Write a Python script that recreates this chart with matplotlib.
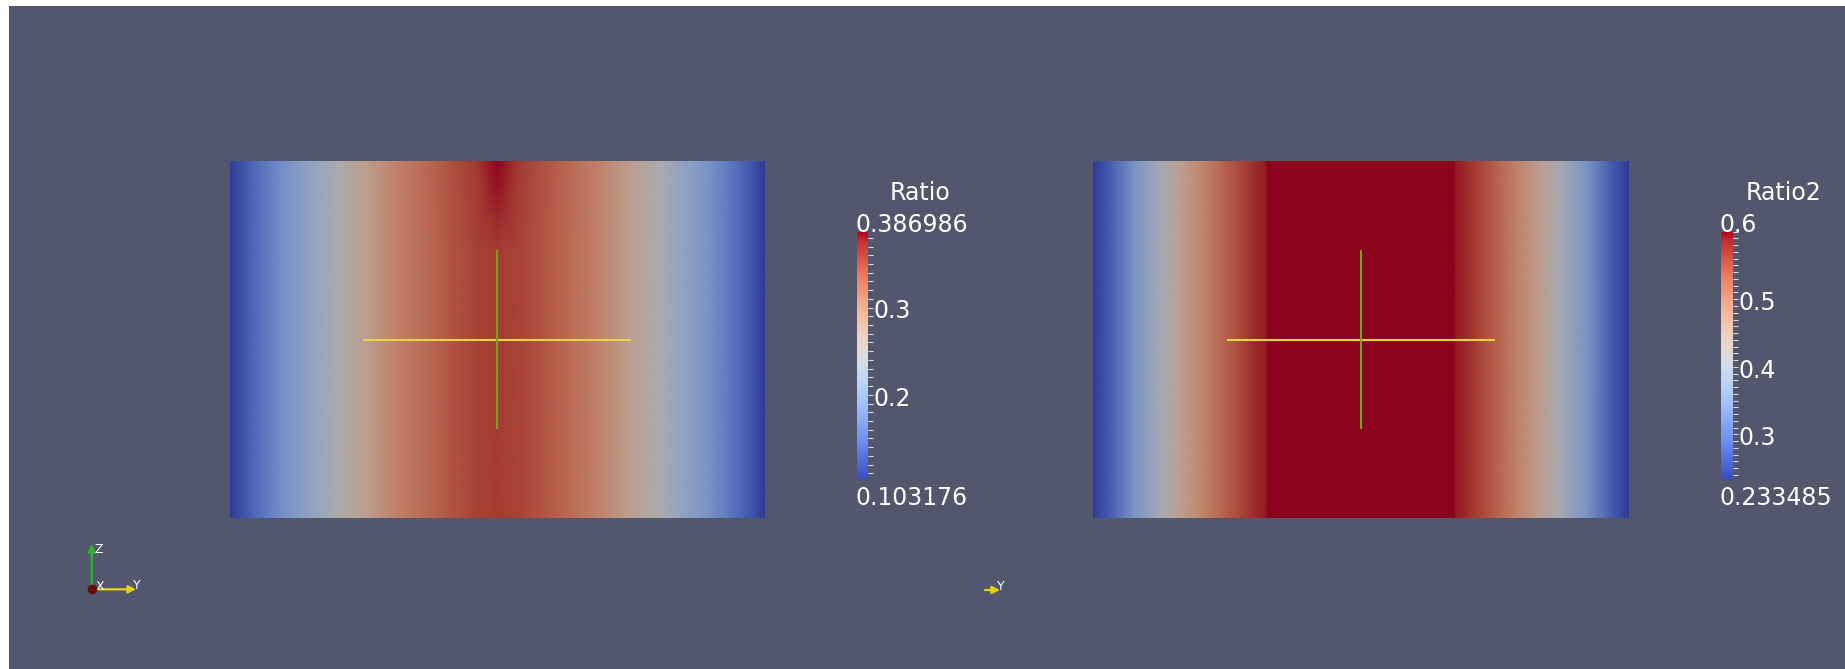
import numpy as np
import matplotlib
matplotlib.use("Agg")
import matplotlib.pyplot as plt
from matplotlib.colors import ListedColormap, Normalize
from matplotlib.cm import ScalarMappable
from matplotlib.ticker import FixedLocator, MultipleLocator
import matplotlib.patches as mpatches

# ---------------- data ----------------
# node positions across the slab (domain units) and field values at those nodes
ratio_x = [-1.5, -1.44, -1.38, -1.29, -1.2, -1.11, -1.02, -0.9, -0.735, -0.57, -0.42, -0.27, -0.12, 0.0,
           0.12, 0.27, 0.42, 0.57, 0.735, 0.9, 1.02, 1.11, 1.2, 1.29, 1.38, 1.44, 1.5]
ratio_mid = [0.103, 0.120, 0.137, 0.160, 0.183, 0.200, 0.217, 0.245, 0.273, 0.305, 0.324, 0.343, 0.356, 0.362,
             0.356, 0.343, 0.324, 0.305, 0.273, 0.245, 0.217, 0.200, 0.183, 0.160, 0.137, 0.120, 0.103]
ratio_top = [0.103, 0.120, 0.137, 0.160, 0.183, 0.200, 0.217, 0.245, 0.273, 0.305, 0.325, 0.345, 0.362, 0.386986,
             0.362, 0.345, 0.325, 0.305, 0.273, 0.245, 0.217, 0.200, 0.183, 0.160, 0.137, 0.120, 0.103]
ratio_y = [-1.0, 0.5, 1.0]
ratio_range = (0.103176, 0.386986)
ratio_ticks = [0.2, 0.3]
ratio_tick_labels = ["0.2", "0.3"]
ratio_range_labels = ["0.386986", "0.103176"]

ratio2_x = [-1.5, -1.404, -1.269, -1.116, -1.002, -0.888, -0.774, -0.678, -0.582, -0.534, -0.522, 0.0,
            0.522, 0.534, 0.582, 0.678, 0.774, 0.888, 1.002, 1.116, 1.269, 1.404, 1.5]
ratio2_vals = [0.2335, 0.270, 0.343, 0.406, 0.453, 0.490, 0.527, 0.556, 0.582, 0.589, 0.65, 0.65,
               0.65, 0.589, 0.582, 0.556, 0.527, 0.490, 0.453, 0.406, 0.343, 0.270, 0.2335]
ratio2_y = [-1.0, 1.0]
ratio2_range = (0.233485, 0.6)
ratio2_ticks = [0.3, 0.4, 0.5]
ratio2_tick_labels = ["0.3", "0.4", "0.5"]
ratio2_range_labels = ["0.6", "0.233485"]

titles = ["Ratio", "Ratio2"]

# ---------------- figure ----------------
W, H = 1845, 669
DPI = 100
fig = plt.figure(figsize=(W / DPI, H / DPI), dpi=DPI, facecolor="white")
plt.rcParams["font.family"] = ["DejaVu Sans"]

BG = "#52576e"
TXT = "#ffffff"
FS = 17


def frac_rect(x0, y0, x1, y1):
    """pixel box (top-down) -> figure fraction rect"""
    return [x0 / W, 1 - y1 / H, (x1 - x0) / W, (y1 - y0) / H]


def ftext(x, y, s, **kw):
    fig.text(x / W, 1 - y / H, s, color=kw.pop("color", TXT), **kw)


# background / overlay axes in pixel coordinates
bg = fig.add_axes([0, 0, 1, 1], zorder=0)
bg.set_xlim(0, W)
bg.set_ylim(H, 0)
bg.axis("off")
bg.add_patch(mpatches.Rectangle((9, 6), W - 9, H - 6, color=BG, lw=0))

base = plt.get_cmap("coolwarm")
lit = ListedColormap(base(np.linspace(0, 1, 256))[:, :3] * 0.777)

YELLOW = "#e6d246"
GREEN = "#78a01e"


def panel(rect, xs, ys, Z, rng):
    ax = fig.add_axes(rect, zorder=1)
    X, Y = np.meshgrid(xs, ys)
    ax.pcolormesh(X, Y, np.asarray(Z), shading="gouraud", cmap=lit,
                  norm=Normalize(*rng), antialiased=False)
    ax.plot([-0.75, 0.75], [0, 0], color=YELLOW, lw=1.5, solid_capstyle="butt", zorder=3)
    ax.plot([0, 0], [-0.5, 0.5], color=GREEN, lw=1.5, solid_capstyle="butt", zorder=4)
    ax.set_xlim(-1.5, 1.5)
    ax.set_ylim(-1, 1)
    ax.axis("off")
    return ax


panel(frac_rect(229.5, 161, 765, 518), ratio_x, ratio_y,
      [ratio_mid, ratio_mid, ratio_top], ratio_range)
panel(frac_rect(1093, 161, 1628.5, 518), ratio2_x, ratio2_y,
      [ratio2_vals, ratio2_vals], ratio2_range)


def colorbar(x0, x1, y0, y1, rng, ticks, tlabels, rlabels, title, title_x):
    cax = fig.add_axes(frac_rect(x0, y0, x1, y1), zorder=2)
    sm = ScalarMappable(norm=Normalize(*rng), cmap=base)
    cb = fig.colorbar(sm, cax=cax)
    cb.outline.set_visible(False)
    cax.yaxis.set_major_locator(FixedLocator(ticks))
    cax.yaxis.set_minor_locator(MultipleLocator(0.01))
    cax.tick_params(which="both", direction="out", length=3.3, width=0.8,
                    color="#dcdcdc", left=False, right=True,
                    labelleft=False, labelright=False)
    bar_h = y1 - y0
    for v, s in zip(ticks, tlabels):
        yp = y1 - (v - rng[0]) / (rng[1] - rng[0]) * bar_h
        ftext(x1 + 5.5, yp + 10.8, s, fontsize=FS, ha="left", va="baseline")
    ftext(x0 - 1, 231.7, rlabels[0], fontsize=FS, ha="left", va="baseline")
    ftext(x0 - 1, 505, rlabels[1], fontsize=FS, ha="left", va="baseline")
    ftext(title_x, 200.5, title, fontsize=FS, ha="center", va="baseline")


colorbar(856.7, 868.3, 231.7, 479.3, ratio_range, ratio_ticks, ratio_tick_labels,
         ratio_range_labels, titles[0], 920)
colorbar(1720.7, 1732.7, 231.7, 479.3, ratio2_range, ratio2_ticks, ratio2_tick_labels,
         ratio2_range_labels, titles[1], 1784)

# orientation axes glyph (left view)
ox, oy = 91.7, 589.3
bg.annotate("", xy=(ox, 544), xytext=(ox, oy),
            arrowprops=dict(arrowstyle="-|>", color="#2fb52f", lw=1.6, mutation_scale=11,
                            shrinkA=0, shrinkB=0))
bg.annotate("", xy=(136, oy), xytext=(ox, oy),
            arrowprops=dict(arrowstyle="-|>", color="#e5d21a", lw=1.6, mutation_scale=11,
                            shrinkA=0, shrinkB=0))
bg.plot([ox], [oy], "o", ms=6, color="#6a0c0c", mec="#6a0c0c", zorder=5)
bg.text(98.5, 549.5, "Z", color=TXT, fontsize=9, ha="center", va="center")
bg.text(99.5, 586.0, "X", color=TXT, fontsize=9, ha="center", va="center")
bg.text(136.5, 585.5, "Y", color=TXT, fontsize=9, ha="center", va="center")

# clipped orientation glyph (right view)
bg.annotate("", xy=(1000, 590), xytext=(985, 590),
            arrowprops=dict(arrowstyle="-|>", color="#e5d21a", lw=1.6, mutation_scale=11,
                            shrinkA=0, shrinkB=0))
bg.text(1000.5, 586, "Y", color=TXT, fontsize=9, ha="center", va="center")

fig.savefig("out.png", dpi=DPI, facecolor="white")
